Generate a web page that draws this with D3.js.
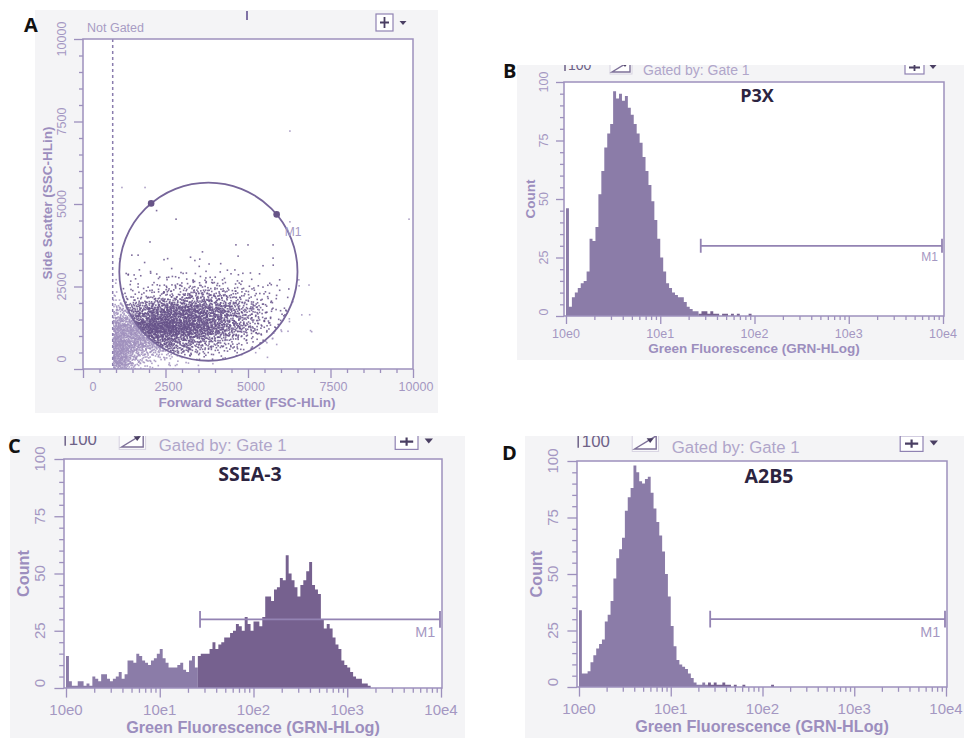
<!DOCTYPE html>
<html><head><meta charset="utf-8">
<script src="https://cdn.jsdelivr.net/npm/d3@7"></script>
<style>
html,body{margin:0;padding:0;background:#fff;}
svg{display:block;font-family:"Liberation Sans",Arial,sans-serif;}
</style></head><body>
<svg id="fig" width="964" height="738"></svg>
<script>
/* Flow cytometry figure: FSC/SSC dot plot (A) + three GRN-HLog histograms (B-D) */

// ---- data ----
var binsPerDecade = 32;               // histogram channel width = 1/32 decade
var p3xCounts = [46,4,8,10,12,14,15,19,33,32,38,52,62,72,78,82,96,93,95,92,94,89,86,82,78,74,68,62,56,49,41,33,25,19,14,12,10,9,8,8,6,4,3,2,2,1,2,2,1,2,1,1,0,1,1,0,1,0,1,0,0,0,1];
var ssea3Counts = [14,3,1,1,3,3,1,2,1,5,4,3,6,6,4,3,4,5,7,4,6,12,12,11,15,14,12,11,10,12,13,15,17,13,11,9,9,9,10,11,8,7,12,14,9,14,15,15,15,17,20,17,19,20,22,22,24,25,28,27,25,31,28,25,29,29,27,31,40,40,38,43,44,48,47,58,50,47,44,40,45,47,51,55,45,43,41,30,26,28,26,22,19,17,12,10,9,7,5,4,4,2,2,1];
var a2b5Counts = [34,6,6,7,11,14,17,19,21,29,32,38,48,57,61,66,78,84,88,98,95,91,90,92,93,86,79,73,67,60,50,40,27,18,12,10,9,8,6,4,2,1,1,2,1,2,1,2,1,1,2,1,1,0,1,0,0,1,0,0,0,0,0,0,0,0,0,1];
var m1Range = [26.9, 10000];
var m1Level = 30;
var countTicks = [0, 25, 50, 75, 100];
var logTicks = [1, 10, 100, 1000, 10000];
var logTickLabels = ['10e0', '10e1', '10e2', '10e3', '10e4'];
var linTicks = [0, 2500, 5000, 7500, 10000];

// dot plot: event counts per 500x500 cell, rows = SSC bands from 0 upwards, cols = FSC bands
var cellSize = 500;
var fscStarts = [900, 1400, 1900, 2400, 2900, 3400, 3900, 4400, 4900, 5400, 5900, 6400];
var sscStarts = [0, 500, 1000, 1500, 2000, 2500, 3000];
var cellCounts = [
  [230, 50, 18, 9, 5, 2, 1, 0, 0, 0, 0, 0],
  [240, 170, 130, 105, 80, 60, 38, 22, 10, 3, 1, 0],
  [190, 220, 260, 260, 220, 185, 135, 85, 45, 18, 5, 1],
  [65, 95, 150, 170, 175, 160, 130, 85, 50, 20, 6, 1],
  [9, 14, 22, 34, 48, 55, 46, 32, 20, 10, 4, 1],
  [2, 5, 6, 8, 9, 9, 8, 7, 4, 2, 1, 1],
  [1, 2, 1, 1, 2, 1, 1, 1, 0, 1, 0, 0]
];
var outliers = [[6270,7210],[9880,4540],[6930,1130],[6630,1640],[1880,5500],[1180,5500],[2230,4800],[2820,4540],[2030,3850],[3620,3550],[4700,3420],[5000,3760],[6270,4460],[5760,3760],[5760,3360],[6550,2520],[1480,3450],[1670,3450],[1370,2850],[1550,2850]];
var thresholdFsc = 900;
var gateCenter = [3800, 2950];
var gateRadius = 2700;
var gateHandleAngles = [130, 40];

// ---- styling ----
var C = { frame: '#9d90bd', tick: '#a497c2', axTitle: '#9c8ebe', faint: '#b0a6ca', lite: '#8b7ca8', dark: '#76618f',
  dotIn: '#66528a', dotOut: '#a090bd', ink: '#2c2440', bg: '#f4f4f6' };
var svg = d3.select('#fig');
var defs = svg.append('defs');

function halton(i, b) { var f = 1, r = 0; while (i > 0) { f /= b; r += f * (i % b); i = Math.floor(i / b); } return r; }
function clipRect(id, x, y, w, h) { defs.append('clipPath').attr('id', id).append('rect').attr('x', x).attr('y', y).attr('width', w).attr('height', h); return 'url(#' + id + ')'; }
function txt(g, x, y, s, size, fill, weight, anchor) {
  return g.append('text').attr('x', x).attr('y', y).attr('font-size', size).attr('fill', fill)
    .attr('font-weight', weight || 400).attr('text-anchor', anchor || 'start').text(s);
}
function vtxt(g, x, y, s, size, fill, weight) {
  return g.append('text').attr('transform', 'translate(' + x + ',' + y + ') rotate(-90)').attr('dy', '0.35em')
    .attr('text-anchor', 'middle').attr('font-size', size).attr('fill', fill).attr('font-weight', weight || 400).text(s);
}
function ticks(g, axisFn, scale, vals, size) {
  g.call(axisFn(scale).tickValues(vals).tickSize(size).tickSizeOuter(0).tickFormat(''));
  g.select('.domain').remove();
  g.selectAll('line').attr('stroke', C.frame).attr('stroke-width', 1.3);
}
function letter(x, y, s) { txt(svg, x, y, s, 20, '#111', 700).attr('font-family', '"Open Sans", sans-serif'); }
function plusBox(g, x, y, w, h, s) {
  g.append('rect').attr('x', x).attr('y', y).attr('width', w).attr('height', h).attr('fill', '#fff').attr('stroke', '#8f82b2').attr('stroke-width', 1.2);
  g.append('path').attr('d', 'M' + (x + w / 2) + ',' + (y + 3 * s) + 'V' + (y + h - 3 * s) + 'M' + (x + 4 * s) + ',' + (y + h / 2) + 'H' + (x + w - 4 * s))
    .attr('stroke', '#4a3f63').attr('stroke-width', 1.8 * s);
}
function caret(g, x, y, s) {
  g.append('path').attr('d', 'M' + (x - 3.5 * s) + ',' + y + 'L' + (x + 3.5 * s) + ',' + y + 'L' + x + ',' + (y + 4 * s) + 'Z').attr('fill', '#4a3f63');
}

// ---- A: dot plot ----
(function () {
  var g = svg.append('g').attr('clip-path', clipRect('clipA', 35, 10, 403, 403));
  g.append('rect').attr('x', 35).attr('y', 10).attr('width', 403).attr('height', 403).attr('fill', C.bg);
  var x = d3.scaleLinear().domain([0, 10000]).range([83, 413]);
  var y = d3.scaleLinear().domain([0, 10000]).range([369, 39]);
  g.append('rect').attr('x', 83).attr('y', 39).attr('width', 330).attr('height', 330).attr('fill', '#fff');

  // each cell's events are spread round its centre with a smooth kernel (Halton + Box-Muller, deterministic)
  var dots = [], seq = 0, sig = 0.42 * cellSize;
  cellCounts.forEach(function (row, r) {
    row.forEach(function (n, c) {
      var mx = fscStarts[c] + cellSize / 2, my = sscStarts[r] + cellSize / 2;
      for (var j = 0; j < n; j++) {
        seq++;
        var u = Math.max(halton(seq, 2), 1e-4), v = halton(seq, 3);
        var rad = Math.sqrt(-2 * Math.log(u)) * sig, th = 2 * Math.PI * v;
        var fx = mx + rad * Math.cos(th), fy = my + rad * Math.sin(th);
        if (fx < thresholdFsc + 20) fx = 2 * (thresholdFsc + 20) - fx;
        if (fy < -150) fy = -300 - fy;
        dots.push([fx, fy]);
      }
    });
  });
  outliers.forEach(function (p) { dots.push(p); });
  var pg = g.append('g').attr('clip-path', clipRect('clipAp', 83, 39, 330, 330));
  pg.selectAll('rect').data(dots).enter().append('rect')
    .attr('x', function (d) { return x(d[0]) - 0.8; }).attr('y', function (d) { return y(d[1]) - 0.8; })
    .attr('width', 1.6).attr('height', 1.6).attr('opacity', 0.85)
    .attr('fill', function (d) { return Math.hypot(d[0] - gateCenter[0], d[1] - gateCenter[1]) < gateRadius ? C.dotIn : C.dotOut; });

  // threshold + circular gate
  g.append('line').attr('x1', x(thresholdFsc)).attr('x2', x(thresholdFsc)).attr('y1', 39).attr('y2', 369)
    .attr('stroke', '#8a7cae').attr('stroke-width', 1.5).attr('stroke-dasharray', '3,3');
  var cx = x(gateCenter[0]), cy = y(gateCenter[1]), rr = x(gateRadius) - x(0);
  g.append('circle').attr('cx', cx).attr('cy', cy).attr('r', rr).attr('fill', 'none').attr('stroke', '#76659a').attr('stroke-width', 1.8);
  gateHandleAngles.forEach(function (a) {
    var t = a * Math.PI / 180;
    g.append('circle').attr('cx', cx + rr * Math.cos(t)).attr('cy', cy - rr * Math.sin(t)).attr('r', 3.3).attr('fill', '#675487');
  });
  var h2 = gateHandleAngles[1] * Math.PI / 180;
  txt(g, cx + rr * Math.cos(h2) + 8, cy - rr * Math.sin(h2) + 22, 'M1', 12, C.tick);

  g.append('rect').attr('x', 83).attr('y', 39).attr('width', 330).attr('height', 330).attr('fill', 'none').attr('stroke', C.frame).attr('stroke-width', 1.5);
  var minor = d3.range(0, 10001, 500).filter(function (v) { return v % 2500; });
  ticks(g.append('g').attr('transform', 'translate(0,369)'), d3.axisBottom, x, linTicks, 9);
  ticks(g.append('g').attr('transform', 'translate(0,369)'), d3.axisBottom, x, minor, 4);
  ticks(g.append('g').attr('transform', 'translate(83,0)'), d3.axisLeft, y, linTicks, 9);
  ticks(g.append('g').attr('transform', 'translate(83,0)'), d3.axisLeft, y, minor, 4);
  linTicks.forEach(function (v) {
    txt(g, x(v) + (v === 0 ? 10 : 3), 391, d3.format('d')(v), 12.5, C.tick, 400, 'middle');
    vtxt(g, 62, y(v) - (v === 0 ? 10 : 0), d3.format('d')(v), 12.5, C.tick);
  });
  txt(g, 247, 407, 'Forward Scatter (FSC-HLin)', 13.5, C.axTitle, 700, 'middle');
  vtxt(g, 47, 203, 'Side Scatter (SSC-HLin)', 13.5, C.axTitle, 700);
  txt(g, 87, 32, 'Not Gated', 12.5, '#a89cc4');
  g.append('line').attr('x1', 247).attr('x2', 247).attr('y1', 11).attr('y2', 20).attr('stroke', '#7f71a5').attr('stroke-width', 2);
  plusBox(g, 376, 14, 17, 17, 1);
  caret(g, 403, 21, 1);
  letter(24, 32, 'A');
})();

// ---- B-D: histograms ----
function drawHist(p) {
  var s = p.s, l = p.l, t = p.t, r = p.r, b = p.b;
  var g = svg.append('g').attr('clip-path', clipRect('clip' + p.id, p.bg[0], p.bg[1], p.bg[2], p.bg[3]));
  g.append('rect').attr('x', p.bg[0]).attr('y', p.bg[1]).attr('width', p.bg[2]).attr('height', p.bg[3]).attr('fill', C.bg);
  g.append('rect').attr('x', l).attr('y', t).attr('width', r - l).attr('height', b - t).attr('fill', '#fff');
  var x = d3.scaleLog().domain([1, 10000]).range([l + 2, r - 1]);
  var y = d3.scaleLinear().domain([0, 100]).range([b, t]);

  var bins = p.counts.map(function (c, i) {
    return { x0: Math.pow(10, i / binsPerDecade), x1: Math.pow(10, (i + 1) / binsPerDecade), n: c };
  });
  // one path per colour so neighbouring channels don't show seams
  function barsPath(list) {
    return list.filter(function (d) { return d.n > 0; }).map(function (d) {
      return 'M' + x(d.x0) + ',' + b + 'V' + y(d.n) + 'H' + x(d.x1) + 'V' + b + 'Z';
    }).join('');
  }
  var hg = g.append('g').attr('clip-path', clipRect('clipP' + p.id, l, t, r - l, b - t));
  hg.append('path').attr('d', barsPath(bins.filter(function (d) { return d.x1 <= m1Range[0]; }))).attr('fill', C.lite);
  hg.append('path').attr('d', barsPath(bins.filter(function (d) { return d.x1 > m1Range[0]; }))).attr('fill', C.dark);

  // M1 marker
  var my = y(m1Level), mx0 = x(m1Range[0]), mx1 = x(m1Range[1]) - 1;
  g.append('path').attr('d', 'M' + mx0 + ',' + my + 'H' + mx1 + 'M' + mx0 + ',' + (my - 7 * s) + 'V' + (my + 7 * s) + 'M' + mx1 + ',' + (my - 7 * s) + 'V' + (my + 7 * s))
    .attr('stroke', '#9383b3').attr('stroke-width', 1.8).attr('fill', 'none');
  txt(g, mx1 - 4 * s, my + 15 * s, 'M1', 12 * s, C.tick, 400, 'end');

  g.append('rect').attr('x', l).attr('y', t).attr('width', r - l).attr('height', b - t).attr('fill', 'none').attr('stroke', C.frame).attr('stroke-width', 1.5);
  var minorX = [];
  for (var d = 0; d < 4; d++) for (var k = 2; k < 10; k++) minorX.push(k * Math.pow(10, d));
  ticks(g.append('g').attr('transform', 'translate(0,' + b + ')'), d3.axisBottom, x, logTicks, 8 * s);
  ticks(g.append('g').attr('transform', 'translate(0,' + b + ')'), d3.axisBottom, x, minorX, 4 * s);
  ticks(g.append('g').attr('transform', 'translate(' + l + ',0)'), d3.axisLeft, y, countTicks, 8 * s);
  ticks(g.append('g').attr('transform', 'translate(' + l + ',0)'), d3.axisLeft, y, d3.range(5, 100, 5).filter(function (v) { return v % 25; }), 4 * s);
  var fs = 12.5 * s;
  logTicks.forEach(function (v, i) { txt(g, x(v), b + 18 * s + fs * 0.35, logTickLabels[i], fs, C.tick, 400, 'middle'); });
  countTicks.forEach(function (v) { vtxt(g, l - 20 * s, y(v) - (v === 0 ? 4 * s : 0), String(v), fs, C.tick); });
  txt(g, (l + r) / 2, b + 32.5 * s + 4.8 * s, 'Green Fluorescence (GRN-HLog)', 13.5 * s, C.axTitle, 700, 'middle');
  vtxt(g, l - 34 * s, (t + b) / 2, 'Count', 13.5 * s, C.axTitle, 700);

  // cropped toolbar above the plot
  g.append('line').attr('x1', l + 1 * s).attr('x2', l + 1 * s).attr('y1', t - 24 * s).attr('y2', t - 11 * s).attr('stroke', '#6d6187').attr('stroke-width', 1.5);
  txt(g, l + 4 * s, t - 12 * s, '100', 14 * s, '#6d6187');
  var ax0 = l + 48 * s, ax1 = l + 66 * s, ab = t - 10 * s;
  g.append('rect').attr('x', ax0 - 2 * s).attr('y', ab - 14 * s).attr('width', ax1 - ax0 + 4 * s).attr('height', 16 * s).attr('fill', '#fbfbfc').attr('stroke', '#d6d2e0').attr('stroke-width', 1);
  g.append('path').attr('d', 'M' + ax0 + ',' + ab + 'H' + ax1 + 'V' + (ab - 11 * s) + 'Z').attr('fill', '#fff').attr('stroke', '#7d7098').attr('stroke-width', 1.4);
  g.append('path').attr('d', 'M' + (ax1 - 8 * s) + ',' + (ab - 9 * s) + 'H' + (ax1 - 2 * s) + 'L' + (ax1 - 5 * s) + ',' + (ab - 5 * s) + 'Z').attr('fill', '#4a3f63');
  txt(g, l + 79 * s, t - 7 * s, 'Gated by: Gate 1', 14 * s, C.faint);
  plusBox(g, r - 39 * s, t - 21 * s, 19 * s, 13 * s, s);
  caret(g, r - 11 * s, t - 17 * s, s);
  txt(g, p.titleXY[0], p.titleXY[1], p.title, p.titleSize, C.ink, 700, 'middle').attr('font-family', '"Open Sans", sans-serif');
  letter(p.letterXY[0], p.letterXY[1], p.id);
}

drawHist({ id: 'B', counts: p3xCounts, title: 'P3X', titleSize: 18, titleXY: [757, 102], letterXY: [503, 78],
  bg: [517, 65, 447, 295], l: 564, t: 82, r: 944, b: 316, s: 1 });
drawHist({ id: 'C', counts: ssea3Counts, title: 'SSEA-3', titleSize: 19.5, titleXY: [250, 481], letterXY: [8, 453],
  bg: [10, 436, 455, 302], l: 64, t: 459, r: 442, b: 688, s: 1.2 });
drawHist({ id: 'D', counts: a2b5Counts, title: 'A2B5', titleSize: 19.5, titleXY: [769, 483], letterXY: [502, 460],
  bg: [525, 436, 439, 302], l: 577, t: 461, r: 947, b: 687, s: 1.2 });
</script>
</body></html>
